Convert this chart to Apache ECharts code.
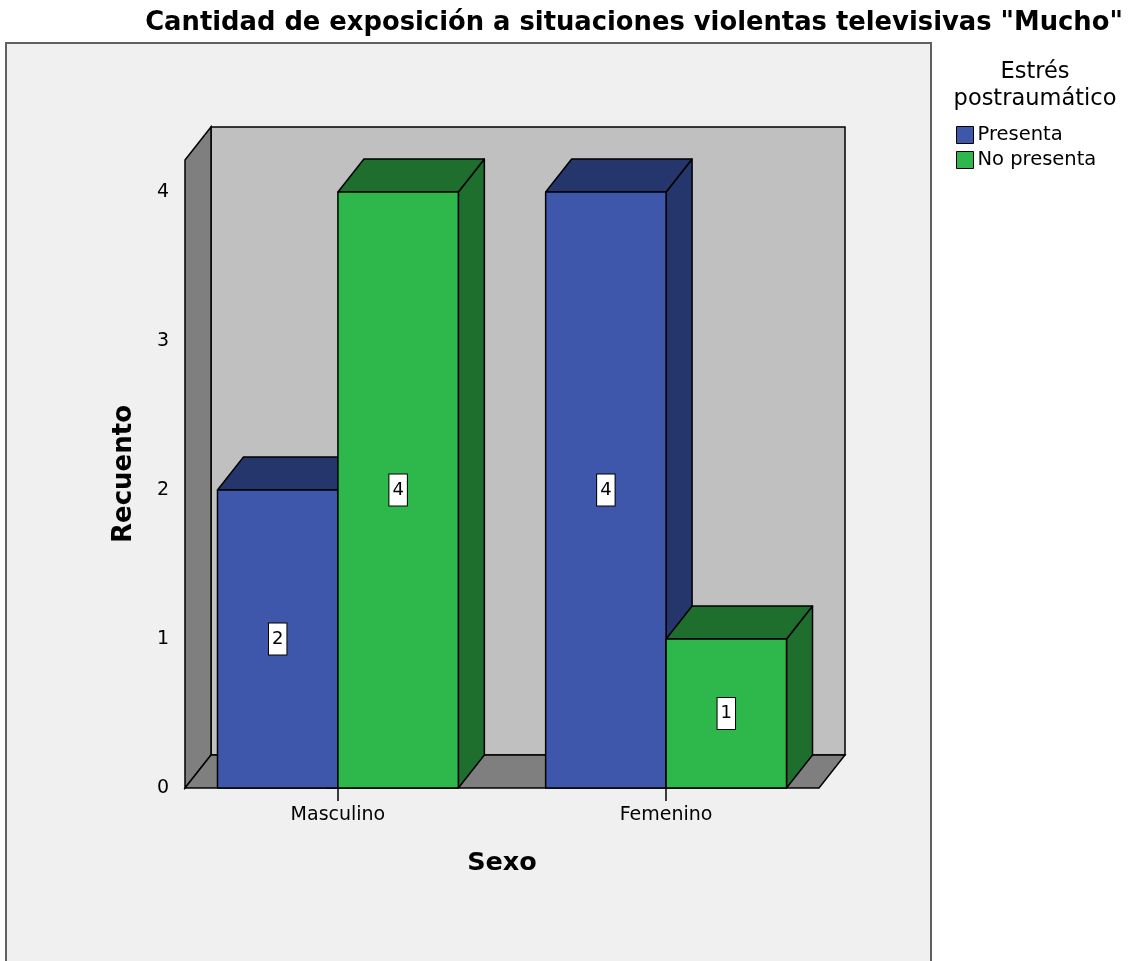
<!DOCTYPE html>
<html>
<head>
<meta charset="utf-8">
<script src="https://cdn.jsdelivr.net/npm/echarts@6/dist/echarts.min.js"></script>
<style>html,body{margin:0;padding:0;background:#fff;}#chart{width:1138px;height:961px;}</style>
</head>
<body>
<div id="chart"></div>
<script>
// ---- data ----
var categories = ['Masculino', 'Femenino'];
var seriesNames = ['Presenta', 'No presenta'];
var presenta = [2, 4];
var noPresenta = [4, 1];
var yTicks = [0, 1, 2, 3, 4];
var chartTitle = 'Cantidad de exposición a situaciones violentas televisivas "Mucho"';
var legendTitle = 'Estrés\npostraumático';

// ---- style ----
var DX = 26, DY = -33;           // 3D depth offset (px)
var BAR_W = 0.367;               // bar width in category units
var frontColors = ['#3e57ab', '#2eb84b'];
var darkColors = ['#24366b', '#1e6e2e'];
var FONT = '"DejaVu Sans", sans-serif';

var chart = echarts.init(document.getElementById('chart'), null, {renderer: 'canvas'});

function wallsItem(params, api) {
  var cs = params.coordSys;
  var x = cs.x, y = cs.y, w = cs.width, h = cs.height;
  var st = {stroke: '#000', lineWidth: 1.5};
  return {
    type: 'group',
    children: [
      {type: 'rect', shape: {x: x + DX, y: y + DY, width: w, height: h},
       style: Object.assign({fill: '#c0c0c0'}, st)},
      {type: 'polygon', shape: {points: [[x, y], [x + DX, y + DY], [x + DX, y + h + DY], [x, y + h]]},
       style: Object.assign({fill: '#7f7f7f'}, st)},
      {type: 'polygon', shape: {points: [[x, y + h], [x + DX, y + h + DY], [x + w + DX, y + h + DY], [x + w, y + h]]},
       style: Object.assign({fill: '#7f7f7f'}, st)}
    ]
  };
}

function barRenderer(sIdx) {
  return function (params, api) {
    var ci = api.value(0), v = api.value(1);
    var x0v = sIdx === 0 ? ci - BAR_W : ci;
    var x1v = sIdx === 0 ? ci : ci + BAR_W;
    var pTop0 = api.coord([x0v, v]);
    var pBot1 = api.coord([x1v, 0]);
    var x0 = pTop0[0], yt = pTop0[1], x1 = pBot1[0], yb = pBot1[1];
    var mid = api.coord([ci, v / 2]);
    var st = {stroke: '#000', lineWidth: 1.5, lineJoin: 'round'};
    return {
      type: 'group',
      children: [
        {type: 'polygon', shape: {points: [[x1, yt], [x1 + DX, yt + DY], [x1 + DX, yb + DY], [x1, yb]]},
         style: Object.assign({fill: darkColors[sIdx]}, st)},
        {type: 'polygon', shape: {points: [[x0, yt], [x0 + DX, yt + DY], [x1 + DX, yt + DY], [x1, yt]]},
         style: Object.assign({fill: darkColors[sIdx]}, st)},
        {type: 'rect', shape: {x: x0, y: yt, width: x1 - x0, height: yb - yt},
         style: Object.assign({fill: frontColors[sIdx]}, st)},
        {type: 'text', x: (x0 + x1) / 2, y: mid[1],
         style: {text: String(v), fill: '#000', font: '18px ' + FONT, align: 'center', verticalAlign: 'middle',
                 backgroundColor: '#fff', borderColor: '#000', borderWidth: 1, padding: [7, 3, 6, 3]}}
      ]
    };
  };
}

function barData(vals) {
  return vals.map(function (v, i) { return [i, v]; });
}

var option = {
  backgroundColor: '#fff',
  animation: false,
  title: [
    {text: chartTitle, left: 629, top: 5, textAlign: 'center',
     textStyle: {fontFamily: FONT, fontWeight: 'bold', fontSize: 25.8, color: '#000'}},
    {text: legendTitle, left: 1030, top: 54, textAlign: 'center',
     textStyle: {fontFamily: FONT, fontWeight: 'normal', fontSize: 22.5, color: '#000', lineHeight: 27, align: 'center'}}
  ],
  graphic: [
    {type: 'rect', z: -100, shape: {x: 6, y: 43, width: 925, height: 940},
     style: {fill: '#f0f0f0', stroke: '#606060', lineWidth: 2}}
  ],
  legend: {
    orient: 'vertical', left: 951, top: 120, padding: 5, itemWidth: 17, itemHeight: 17, itemGap: 5,
    icon: 'rect', data: seriesNames,
    textStyle: {fontFamily: FONT, fontSize: 19.5, color: '#000', padding: [0, 0, 0, -1]},
    itemStyle: {borderColor: '#000', borderWidth: 1}
  },
  grid: {left: 185, right: 319, top: 160, bottom: 173, containLabel: false},
  xAxis: {
    type: 'value', min: -0.466, max: 1.466,
    name: 'Sexo', nameLocation: 'middle', nameGap: 62,
    nameTextStyle: {fontFamily: FONT, fontWeight: 'bold', fontSize: 25.5, color: '#000'},
    splitLine: {show: false},
    axisLine: {show: false},
    axisTick: {show: true, customValues: [0, 1], length: 13, lineStyle: {color: '#000', width: 1.5}},
    axisLabel: {customValues: [0, 1], margin: 18, fontFamily: FONT, fontSize: 19, color: '#000',
                formatter: function (v) { return categories[Math.round(v)]; }}
  },
  yAxis: {
    type: 'value', min: 0, max: 4.215,
    name: 'Recuento', nameLocation: 'middle', nameGap: 48, nameRotate: 90,
    nameTextStyle: {fontFamily: FONT, fontWeight: 'bold', fontSize: 26, color: '#000'},
    splitLine: {show: false},
    axisLine: {show: false},
    axisTick: {show: true, customValues: yTicks, length: 12, lineStyle: {color: '#000', width: 1.5}},
    axisLabel: {customValues: yTicks, margin: 16, fontFamily: FONT, fontSize: 19, color: '#000'}
  },
  series: [
    {type: 'custom', name: '_walls', z: 1, silent: true, clip: false, renderItem: wallsItem, data: [[0, 0]]},
    {type: 'custom', name: seriesNames[0], z: 3, clip: false, renderItem: barRenderer(0), data: barData(presenta),
     itemStyle: {color: frontColors[0]}, encode: {x: 0, y: 1}},
    {type: 'custom', name: seriesNames[1], z: 3, clip: false, renderItem: barRenderer(1), data: barData(noPresenta),
     itemStyle: {color: frontColors[1]}, encode: {x: 0, y: 1}}
  ]
};
chart.setOption(option);
</script>
</body>
</html>
